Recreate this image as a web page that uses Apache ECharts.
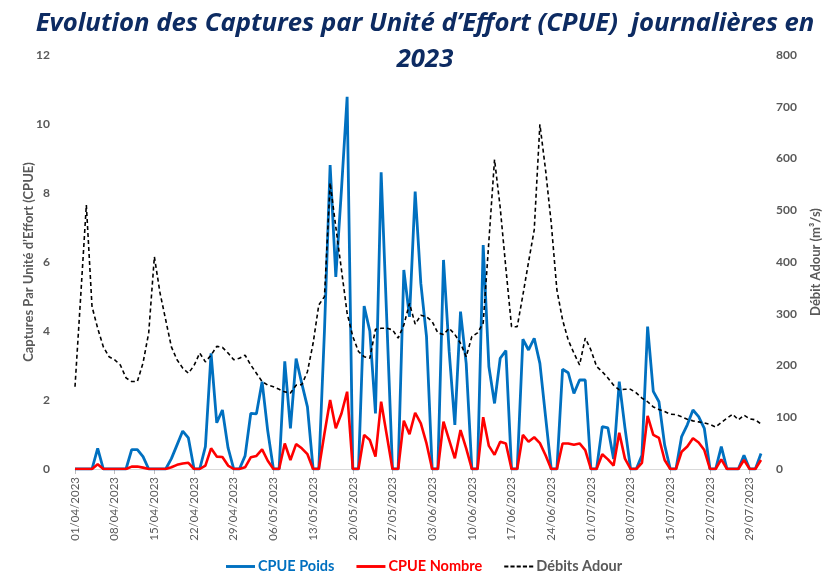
<!DOCTYPE html>
<html>
<head>
<meta charset="utf-8">
<script src="https://cdn.jsdelivr.net/npm/echarts@6/dist/echarts.min.js"></script>
<style>
  html, body { margin: 0; padding: 0; background: #fff; }
  #chart { width: 825px; height: 572px; }
</style>
</head>
<body>
<div id="chart"></div>
<script>
// jours du 01/04/2023 au 31/07/2023
var startDay = new Date(2023, 3, 1);
var nbDays = 122;
var days = [];
for (var i = 0; i < nbDays; i++) {
  var d = new Date(startDay.getFullYear(), startDay.getMonth(), startDay.getDate() + i);
  var dd = ('0' + d.getDate()).slice(-2);
  var mm = ('0' + (d.getMonth() + 1)).slice(-2);
  days.push(dd + '/' + mm + '/' + d.getFullYear());
}

// CPUE Poids (axe gauche)
var cpuePoids = [
  0, 0, 0, 0, 0.6, 0, 0, 0, 0, 0,
  0.56, 0.56, 0.36, 0, 0, 0, 0, 0.3, 0.7, 1.1,
  0.9, 0, 0, 0.65, 3.35, 1.34, 1.71, 0.61, 0, 0,
  0.38, 1.61, 1.6, 2.53, 1.1, 0, 0, 3.12, 1.18, 3.2,
  2.48, 1.8, 0, 0, 4.0, 8.81, 5.57, 8.1, 10.79, 0,
  0, 4.72, 4.0, 1.61, 8.6, 4.3, 0, 0, 5.77, 4.41,
  8.04, 5.38, 3.84, 0, 0, 6.06, 3.4, 1.28, 4.56, 3.06,
  0, 0, 6.49, 2.97, 1.9, 3.21, 3.43, 0, 0, 3.76,
  3.45, 3.79, 3.06, 1.52, 0, 0, 2.89, 2.79, 2.19, 2.58,
  2.58, 0, 0, 1.23, 1.19, 0.29, 2.53, 1.2, 0, 0,
  0.4, 4.13, 2.25, 1.95, 0.7, 0, 0, 0.94, 1.28, 1.71,
  1.52, 1.18, 0, 0, 0.65, 0, 0, 0, 0.4, 0,
  0, 0.45
];

// CPUE Nombre (axe gauche)
var cpueNombre = [
  0, 0, 0, 0, 0.14, 0, 0, 0, 0, 0,
  0.07, 0.07, 0.04, 0, 0, 0, 0, 0.05, 0.12, 0.16,
  0.18, 0, 0, 0.1, 0.6, 0.36, 0.35, 0.1, 0, 0,
  0.05, 0.34, 0.38, 0.57, 0.24, 0, 0, 0.74, 0.26, 0.72,
  0.6, 0.43, 0, 0, 1.03, 2.0, 1.18, 1.61, 2.24, 0,
  0, 0.99, 0.84, 0.36, 1.95, 0.97, 0, 0, 1.4, 1.01,
  1.63, 1.32, 0.74, 0, 0, 1.37, 0.84, 0.31, 1.13, 0.6,
  0, 0, 1.5, 0.67, 0.41, 0.79, 0.74, 0, 0, 0.99,
  0.79, 0.92, 0.75, 0.4, 0, 0, 0.74, 0.74, 0.7, 0.74,
  0.55, 0, 0, 0.43, 0.28, 0.1, 1.05, 0.3, 0, 0,
  0.18, 1.54, 0.99, 0.9, 0.26, 0, 0, 0.5, 0.65, 0.89,
  0.77, 0.55, 0, 0, 0.28, 0, 0, 0, 0.26, 0,
  0, 0.26
];

// Débits Adour en m3/s (axe droit)
var debitsAdour = [
  159, 333, 510, 314, 272, 236, 217, 211, 201, 176,
  169, 169, 205, 263, 410, 340, 288, 236, 211, 195,
  185, 200, 224, 207, 220, 237, 235, 224, 211, 214,
  220, 201, 185, 169, 162, 159, 154, 149, 147, 162,
  163, 188, 243, 317, 333, 553, 468, 385, 301, 256,
  227, 217, 214, 270, 272, 272, 269, 253, 278, 320,
  280, 297, 294, 285, 263, 260, 272, 260, 243, 217,
  256, 263, 282, 440, 598, 505, 388, 275, 275, 336,
  400, 462, 666, 578, 475, 346, 288, 249, 224, 201,
  253, 230, 198, 188, 176, 162, 153, 154, 154, 147,
  137, 130, 120, 115, 111, 106, 105, 101, 96, 93,
  91, 89, 86, 81, 90, 98, 106, 95, 104, 97,
  95, 87
];

var font = 'Lato';
var grey = '#595959';

// icones de légende (trait plein / tirets)
var iconPlein = 'path://M0,0h30v3h-30z';
var iconTirets = 'path://M0,0h4v2h-4zM6,0h4v2h-4zM12,0h4v2h-4zM18,0h4v2h-4zM24,0h4v2h-4z';

var chart = echarts.init(document.getElementById('chart'));
chart.setOption({
  animation: false,
  textStyle: {fontFamily: font},
  title: {
    text: 'Evolution des Captures par Unité d\u2019Effort (CPUE)  journalières en\n2023',
    left: 425,
    top: 6,
    padding: 0,
    textAlign: 'center',
    textStyle: {
      fontFamily: 'Open Sans',
      fontSize: 25.7,
      fontWeight: 'bold',
      fontStyle: 'italic',
      color: '#0d2b62',
      lineHeight: 36,
    },
  },
  legend: {
    top: 554,
    left: 221,
    itemWidth: 29,
    itemHeight: 3,
    itemGap: 22,
    textStyle: {fontSize: 14.5, fontWeight: 'bold', fontFamily: font, padding: [0, 0, 0, -2]},
    data: [
      {name: 'CPUE Poids', icon: iconPlein, itemStyle: {color: '#0070c0'}, textStyle: {color: '#0070c0'}},
      {name: 'CPUE Nombre', icon: iconPlein, itemStyle: {color: '#ff0000'}, textStyle: {color: '#ff0000'}},
      {name: 'Débits Adour', icon: iconTirets, itemStyle: {color: '#000000'}, textStyle: {color: grey}},
    ],
  },
  grid: {left: 75, right: 64, top: 55, bottom: 103, containLabel: false, outerBoundsMode: 'none'},
  xAxis: {
    type: 'category',
    data: days,
    boundaryGap: false,
    axisLine: {lineStyle: {color: '#d9d9d9', width: 1}},
    axisTick: {show: true, interval: 6, length: 5, lineStyle: {color: '#bfbfbf'}},
    axisLabel: {
      interval: 6,
      rotate: 90,
      color: grey,
      fontSize: 11.5,
      margin: 8,
    },
    splitLine: {show: false},
  },
  yAxis: [
    {
      type: 'value',
      min: 0,
      max: 12,
      interval: 2,
      name: 'Captures Par Unité d\u2019Effort (CPUE)',
      nameLocation: 'middle',
      nameRotate: 90,
      nameGap: 40,
      nameMoveOverlap: false,
      nameTextStyle: {color: grey, fontSize: 13, fontWeight: 'bold'},
      axisLine: {show: false},
      axisTick: {show: false},
      splitLine: {show: false},
      axisLabel: {color: grey, fontSize: 12, fontWeight: 'bold', margin: 25},
    },
    {
      type: 'value',
      min: 0,
      max: 800,
      interval: 100,
      name: 'Débit Adour (m³/s)',
      nameLocation: 'middle',
      nameRotate: 90,
      nameGap: 48,
      nameMoveOverlap: false,
      nameTextStyle: {color: grey, fontSize: 13, fontWeight: 'bold'},
      axisLine: {show: false},
      axisTick: {show: false},
      splitLine: {show: false},
      axisLabel: {color: grey, fontSize: 12, fontWeight: 'bold', margin: 15},
    },
  ],
  series: [
    {
      name: 'CPUE Poids',
      type: 'line',
      yAxisIndex: 0,
      data: cpuePoids,
      showSymbol: false,
      symbol: 'none',
      z: 3,
      lineStyle: {color: '#0070c0', width: 2.8},
      itemStyle: {color: '#0070c0'},
    },
    {
      name: 'CPUE Nombre',
      type: 'line',
      yAxisIndex: 0,
      data: cpueNombre,
      showSymbol: false,
      symbol: 'none',
      z: 4,
      lineStyle: {color: '#ff0000', width: 2.6},
      itemStyle: {color: '#ff0000'},
    },
    {
      name: 'Débits Adour',
      type: 'line',
      yAxisIndex: 1,
      data: debitsAdour,
      showSymbol: false,
      symbol: 'none',
      z: 5,
      lineStyle: {color: '#000000', width: 1.6, type: [4, 3]},
      itemStyle: {color: '#000000'},
    },
  ],
});
</script>
</body>
</html>
